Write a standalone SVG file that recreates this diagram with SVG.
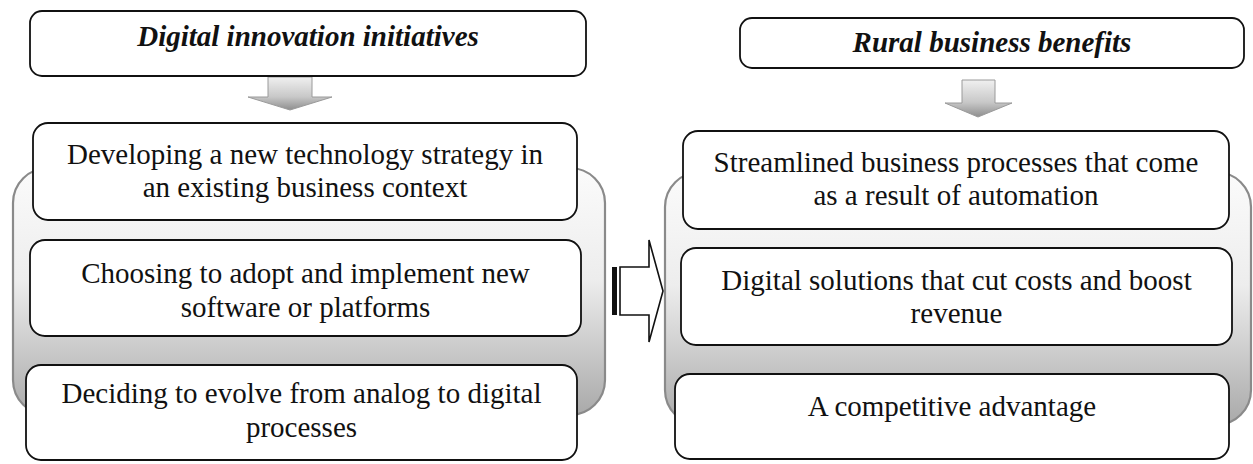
<svg xmlns="http://www.w3.org/2000/svg" width="1253" height="464" viewBox="0 0 1253 464">
<defs>
<linearGradient id="cont" x1="0" y1="0" x2="0" y2="1">
<stop offset="0" stop-color="#fbfbfb"/>
<stop offset="0.45" stop-color="#ededed"/>
<stop offset="1" stop-color="#a9a9a9"/>
</linearGradient>
<linearGradient id="darr" x1="0" y1="0" x2="0" y2="1">
<stop offset="0" stop-color="#f0f0f0"/>
<stop offset="0.6" stop-color="#c8c8c8"/>
<stop offset="1" stop-color="#8e8e8e"/>
</linearGradient>
<style>
.box{fill:#fff;stroke:#111;stroke-width:1.8}
.cont{fill:url(#cont);stroke:#8a8a8a;stroke-width:2.2}
.t{font-family:"Liberation Serif","Times New Roman",serif;font-size:29px;fill:#111;text-anchor:middle}
.h{font-family:"Liberation Serif","Times New Roman",serif;font-size:29px;font-weight:bold;font-style:italic;fill:#111;text-anchor:middle}
.darr{fill:url(#darr);stroke:#9a9a9a;stroke-width:1}
.rarr{fill:#fff;stroke:#111;stroke-width:1.6;stroke-linejoin:miter}
</style>
</defs>

<g id="left-container"><rect class="cont" x="13" y="168" width="592" height="247" rx="35"/></g>
<g id="right-container"><rect class="cont" x="665" y="172" width="586" height="253" rx="35"/></g>

<g id="connectors">
<path class="darr" d="M268,77 H312 V97 H332 L290,110 L248,97 H268 Z"/>
<path class="darr" d="M962,80 H995 V103 H1012 L978,117 L945,103 H962 Z"/>
<rect x="612" y="267" width="5" height="48" fill="#111"/>
<path class="rarr" d="M620,267 H649 V240 L663,291 L649,342 V315 H620 Z"/>
</g>

<g id="title-left">
<rect class="box" x="30" y="11" width="556" height="65" rx="12"/>
<text class="h" x="308" y="46">Digital innovation initiatives</text>
</g>
<g id="title-right">
<rect class="box" x="740" y="18" width="504" height="50" rx="12"/>
<text class="h" x="992" y="52">Rural business benefits</text>
</g>

<g id="left-1">
<rect class="box" x="33" y="123" width="544" height="97" rx="15"/>
<text class="t" x="305" y="164">Developing a new technology strategy in</text>
<text class="t" x="305" y="197">an existing business context</text>
</g>
<g id="left-2">
<rect class="box" x="30" y="240" width="551" height="96" rx="15"/>
<text class="t" x="305.5" y="283">Choosing to adopt and implement new</text>
<text class="t" x="305.5" y="317">software or platforms</text>
</g>
<g id="left-3">
<rect class="box" x="26" y="365" width="551" height="95" rx="15"/>
<text class="t" x="301.5" y="403">Deciding to evolve from analog to digital</text>
<text class="t" x="301.5" y="437">processes</text>
</g>

<g id="right-1">
<rect class="box" x="683" y="131" width="546" height="98" rx="15"/>
<text class="t" x="956" y="172">Streamlined business processes that come</text>
<text class="t" x="956" y="205">as a result of automation</text>
</g>
<g id="right-2">
<rect class="box" x="681" y="248" width="551" height="97" rx="15"/>
<text class="t" x="956.5" y="290">Digital solutions that cut costs and boost</text>
<text class="t" x="956.5" y="323">revenue</text>
</g>
<g id="right-3">
<rect class="box" x="675" y="374" width="554" height="85" rx="15"/>
<text class="t" x="952" y="416">A competitive advantage</text>
</g>
</svg>
